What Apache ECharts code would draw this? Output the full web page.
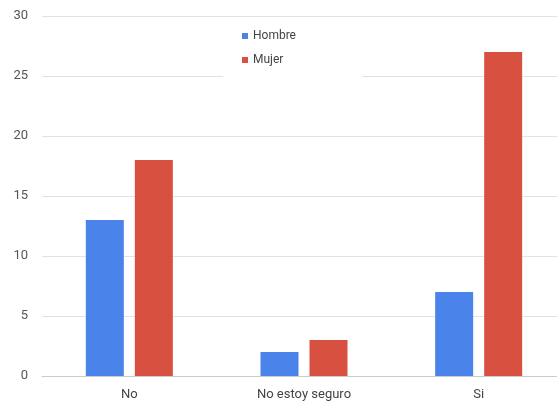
<!DOCTYPE html>
<html><head><meta charset="utf-8">
<script src="https://cdn.jsdelivr.net/npm/echarts@6/dist/echarts.min.js"></script>
<style>html,body{margin:0;padding:0;background:#fff;overflow:hidden}#c{width:557px;height:404px}</style>
</head><body><div id="c"></div>
<script>
const categories = ['No', 'No estoy seguro', 'Si'];
const hombre = [13, 2, 7];
const mujer = [18, 3, 27];
const yTicks = {min: 0, max: 30, interval: 5};

const chart = echarts.init(document.getElementById('c'));
chart.setOption({
  animation: false,
  textStyle: {fontFamily: 'Roboto, Arial, sans-serif'},
  grid: {left: 42, top: 16, width: 524, height: 360, containLabel: false, outerBoundsMode: 'none'},
  graphic: [{type: 'rect', z: 1, shape: {x: 223, y: 22, width: 139, height: 58}, style: {fill: '#fff'}}],
  legend: {
    orient: 'vertical', left: 237, top: 25, z: 5,
    itemWidth: 6, itemHeight: 6, itemGap: 12, icon: 'rect',
    textStyle: {color: '#444', fontSize: 12},
    data: ['Hombre', 'Mujer']
  },
  xAxis: {
    type: 'category', data: categories,
    axisLine: {lineStyle: {color: '#ccc'}},
    axisTick: {show: false},
    axisLabel: {color: '#444', fontSize: 13, margin: 12}
  },
  yAxis: {
    type: 'value', min: yTicks.min, max: yTicks.max, interval: yTicks.interval,
    axisLine: {show: false}, axisTick: {show: false},
    axisLabel: {color: '#555', fontSize: 13, margin: 14},
    splitLine: {lineStyle: {color: '#e2e2e2'}}
  },
  series: [
    {name: 'Hombre', type: 'bar', data: hombre, barWidth: 38, barGap: '29%', itemStyle: {color: '#4a84ea'}},
    {name: 'Mujer', type: 'bar', data: mujer, barWidth: 38, barGap: '29%', itemStyle: {color: '#d8503f'}}
  ]
});
</script></body></html>
